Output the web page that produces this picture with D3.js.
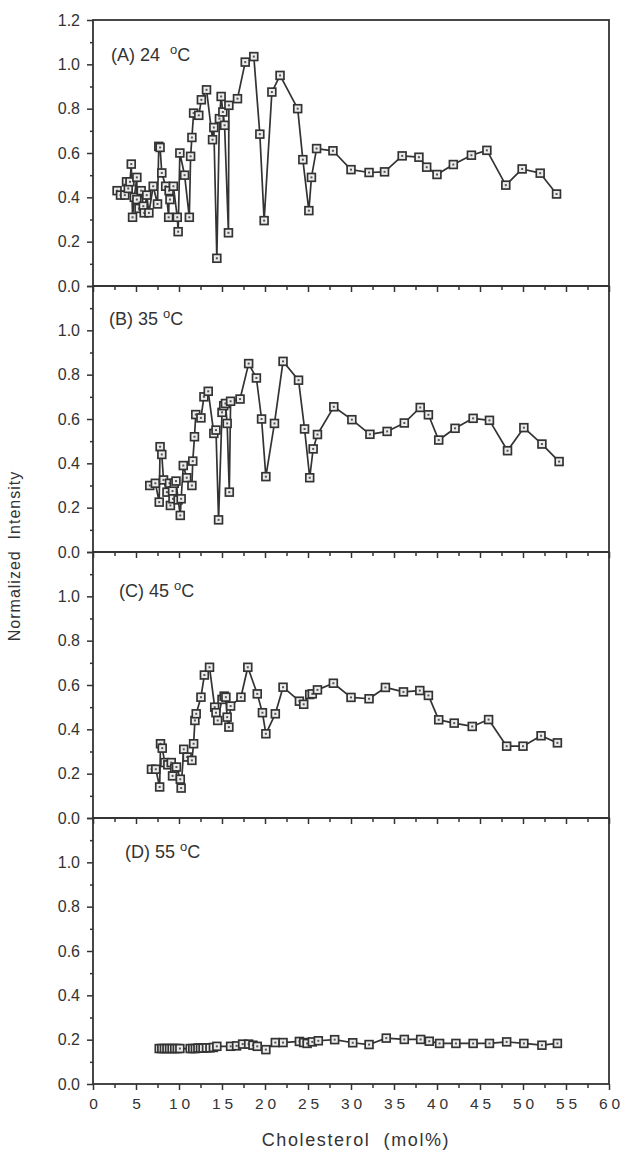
<!DOCTYPE html>
<html>
<head>
<meta charset="utf-8">
<script src="https://cdn.jsdelivr.net/npm/d3@7.9.0/dist/d3.min.js"></script>
<style>
  body { margin: 0; background: #fff; }
  svg { font-family: "Liberation Sans", Arial, sans-serif; }
</style>
</head>
<body>
<svg id="chart" width="628" height="1152"></svg>
<script>
// Cholesterol (mol%) and normalized intensity
const cholA = [2.8, 3.2, 3.7, 3.9, 4.1, 4.3, 4.45, 4.6, 4.8, 5.1, 5.1, 5.35, 5.6, 5.85, 5.95, 6.25, 6.5, 7.0, 7.5, 7.65,
  7.8, 8.0, 8.45, 8.8, 8.85, 8.95, 9.35, 9.8, 9.9, 10.1, 10.65, 11.2, 11.35, 11.5, 11.7, 12.3, 12.6, 13.2, 13.9, 14.05,
  14.4, 14.7, 14.9, 15.1, 15.3, 15.75, 15.8, 16.8, 17.7, 18.7, 19.4, 19.9, 20.8, 21.75, 23.8, 24.4, 25.1, 25.4, 26.0, 27.9,
  30.0, 32.1, 33.9, 35.95, 37.9, 38.8, 40.0, 41.9, 44.0, 45.8, 48.0, 49.9, 52.0, 53.9];
const intA = [0.43, 0.41, 0.41, 0.47, 0.44, 0.47, 0.55, 0.31, 0.40, 0.49, 0.39, 0.35, 0.43, 0.36, 0.33, 0.41, 0.33, 0.45, 0.37, 0.63,
  0.625, 0.51, 0.45, 0.31, 0.43, 0.39, 0.45, 0.31, 0.245, 0.60, 0.50, 0.31, 0.585, 0.67, 0.78, 0.77, 0.84, 0.885, 0.66, 0.715,
  0.125, 0.755, 0.855, 0.785, 0.725, 0.24, 0.815, 0.845, 1.01, 1.035, 0.685, 0.295, 0.875, 0.95, 0.80, 0.57, 0.34, 0.49, 0.62, 0.61,
  0.525, 0.512, 0.515, 0.587, 0.581, 0.536, 0.503, 0.548, 0.59, 0.612, 0.455, 0.528, 0.509, 0.415];

const cholB = [6.6, 7.25, 7.7, 7.8, 8.0, 8.2, 8.6, 8.9, 9.0, 9.25, 9.3, 9.45, 9.65, 9.9, 10.15, 10.25, 10.5, 10.9, 11.5, 11.6,
  11.8, 11.95, 12.55, 12.9, 13.4, 14.05, 14.3, 14.6, 15.0, 15.2, 15.4, 15.6, 15.85, 16.0, 17.1, 18.1, 19.0, 19.6, 20.1, 21.1,
  22.1, 23.9, 24.6, 25.2, 25.6, 26.1, 28.0, 30.1, 32.2, 34.2, 36.2, 38.05, 39.0, 40.2, 42.1, 44.2, 46.1, 48.2, 50.1, 52.2, 54.2];
const intB = [0.30, 0.31, 0.225, 0.475, 0.44, 0.325, 0.27, 0.31, 0.21, 0.275, 0.24, 0.31, 0.32, 0.235, 0.165, 0.24, 0.39, 0.335, 0.30, 0.41,
  0.52, 0.62, 0.605, 0.70, 0.725, 0.535, 0.55, 0.145, 0.63, 0.66, 0.67, 0.58, 0.27, 0.68, 0.69, 0.85, 0.785, 0.60, 0.34, 0.58,
  0.86, 0.775, 0.555, 0.335, 0.465, 0.53, 0.655, 0.597, 0.531, 0.544, 0.582, 0.652, 0.619, 0.505, 0.558, 0.603, 0.594, 0.457, 0.561, 0.487, 0.408];

const cholC = [6.8, 7.3, 7.75, 7.85, 8.05, 8.35, 8.7, 9.1, 9.25, 9.5, 9.7, 10.15, 10.25, 10.55, 10.95, 11.5, 11.7, 11.85, 12.0, 12.55,
  12.95, 13.55, 14.15, 14.3, 14.5, 15.0, 15.25, 15.45, 15.6, 15.8, 16.0, 17.2, 18.0, 19.1, 19.7, 20.1, 21.2, 22.1, 24.0, 24.5,
  25.2, 25.5, 26.1, 27.95, 30.0, 32.1, 34.0, 36.1, 38.0, 39.0, 40.2, 42.0, 44.1, 46.0, 48.1, 50.0, 52.1, 54.0];
const intC = [0.22, 0.22, 0.14, 0.335, 0.315, 0.25, 0.24, 0.25, 0.19, 0.225, 0.23, 0.175, 0.135, 0.31, 0.275, 0.26, 0.335, 0.44, 0.47, 0.545,
  0.645, 0.68, 0.50, 0.475, 0.44, 0.535, 0.55, 0.545, 0.455, 0.41, 0.505, 0.545, 0.68, 0.56, 0.475, 0.38, 0.47, 0.59, 0.527, 0.513,
  0.557, 0.56, 0.578, 0.608, 0.544, 0.538, 0.589, 0.569, 0.575, 0.553, 0.443, 0.428, 0.413, 0.444, 0.324, 0.324, 0.371, 0.339];

const cholD = [7.7, 8.0, 8.3, 8.6, 8.9, 9.2, 9.5, 9.8, 10.1, 11.3, 11.6, 11.9, 12.2, 12.5, 12.8, 13.2, 13.6, 14.0, 14.4, 16.0,
  16.7, 17.4, 18.1, 18.6, 19.1, 20.1, 21.2, 22.1, 24.0, 24.5, 24.9, 25.5, 26.2, 28.1, 30.2, 32.1, 34.1, 36.2, 38.1, 39.1,
  40.3, 42.2, 44.2, 46.1, 48.1, 50.1, 52.2, 54.0];
const intD = [0.16, 0.16, 0.16, 0.16, 0.16, 0.16, 0.16, 0.16, 0.16, 0.16, 0.16, 0.16, 0.162, 0.162, 0.162, 0.163, 0.163, 0.165, 0.17, 0.17,
  0.172, 0.18, 0.18, 0.175, 0.17, 0.155, 0.187, 0.187, 0.192, 0.187, 0.183, 0.19, 0.195, 0.2, 0.186, 0.178, 0.207, 0.201, 0.201, 0.193,
  0.183, 0.183, 0.183, 0.183, 0.19, 0.183, 0.175, 0.183];

const panelNames = ["(A) 24", "(B) 35", "(C) 45", "(D) 55"];
const xMajorTicks = d3.range(0, 61, 5);
const xMinorTicks = d3.range(2.5, 60, 5);
const yMajorTicks = [0, 0.2, 0.4, 0.6, 0.8, 1.0, 1.2];
const yMinorTicks = [0.1, 0.3, 0.5, 0.7, 0.9, 1.1];

const panels = [
  { name: panelNames[0], x: cholA, y: intA, labelX: 18, labelY: 41 },
  { name: panelNames[1], x: cholB, y: intB, labelX: 16, labelY: 39 },
  { name: panelNames[2], x: cholC, y: intC, labelX: 26, labelY: 45 },
  { name: panelNames[3], x: cholD, y: intD, labelX: 32, labelY: 40 }
];

// layout
const plotLeft = 93, plotRight = 609, plotTop = 20, panelH = 266;
const ink = "#333";

const svg = d3.select("#chart");
const x = d3.scaleLinear().domain([0, 60]).range([plotLeft, plotRight]);

panels.forEach((p, i) => {
  const y0 = plotTop + i * panelH;
  const y = d3.scaleLinear().domain([0, 1.2]).range([y0 + panelH, y0]);
  const g = svg.append("g");
  const isLast = i === panels.length - 1;

  // bottom ticks (pointing down)
  const xAxis = g.append("g")
    .attr("transform", `translate(0,${y0 + panelH})`)
    .call(d3.axisBottom(x).tickValues(xMajorTicks).tickSize(6).tickPadding(8)
      .tickFormat(isLast ? d3.format("d") : () => ""));
  g.append("g")
    .attr("transform", `translate(0,${y0 + panelH})`)
    .call(d3.axisBottom(x).tickValues(xMinorTicks).tickSize(4).tickFormat(() => ""));

  // left ticks
  g.append("g")
    .attr("transform", `translate(${plotLeft},0)`)
    .call(d3.axisLeft(y).tickValues(yMajorTicks).tickSize(6).tickPadding(7)
      .tickFormat(d => (i > 0 && d > 1.1) ? "" : d3.format(".1f")(d)));
  g.append("g")
    .attr("transform", `translate(${plotLeft},0)`)
    .call(d3.axisLeft(y).tickValues(yMinorTicks).tickSize(3).tickFormat(() => ""));

  g.selectAll(".domain").remove();
  g.selectAll(".tick line").attr("stroke", ink).attr("stroke-width", 1.5);
  g.selectAll(".tick text").attr("fill", ink).style("font-size", "16px")
    .style("font-family", "'Liberation Sans', Arial, sans-serif");
  if (isLast) {
    xAxis.selectAll(".tick text")
      .style("letter-spacing", "4px")
      .attr("dx", "2px")
      .style("font-size", "15.5px");
  }

  // frame
  g.append("rect")
    .attr("x", plotLeft).attr("y", y0)
    .attr("width", plotRight - plotLeft).attr("height", panelH)
    .attr("fill", "none").attr("stroke", ink).attr("stroke-width", 1.8);

  const pts = p.x.map((v, k) => [v, p.y[k]]);

  g.append("path")
    .datum(pts)
    .attr("fill", "none")
    .attr("stroke", ink)
    .attr("stroke-width", 1.7)
    .attr("stroke-linejoin", "round")
    .attr("d", d3.line().x(d => x(d[0])).y(d => y(d[1])));

  const mk = g.selectAll(".mk").data(pts).join("g")
    .attr("class", "mk")
    .attr("transform", d => `translate(${x(d[0])},${y(d[1])})`);
  mk.append("rect")
    .attr("x", -3.9).attr("y", -3.9).attr("width", 7.8).attr("height", 7.8)
    .attr("fill", "#ececec").attr("stroke", ink).attr("stroke-width", 1.7);
  mk.append("rect")
    .attr("x", -1).attr("y", -1).attr("width", 2).attr("height", 2)
    .attr("fill", "#555");

  // panel label
  const lab = g.append("text")
    .attr("x", plotLeft + p.labelX).attr("y", y0 + p.labelY)
    .attr("fill", ink).style("font-size", "18px")
    .style("white-space", "pre");
  lab.append("tspan").text(p.name + (i === 0 ? "  " : " "));
  lab.append("tspan").attr("dy", -7).style("font-size", "13px").text("o");
  lab.append("tspan").attr("dy", 7).text("C");
});

// axis titles
svg.append("text")
  .attr("x", 356).attr("y", 1146)
  .attr("text-anchor", "middle")
  .attr("fill", ink)
  .style("font-size", "18px").style("letter-spacing", "1.6px")
  .style("white-space", "pre")
  .text("Cholesterol  (mol%)");

svg.append("text")
  .attr("transform", "translate(20,556) rotate(-90)")
  .attr("text-anchor", "middle")
  .attr("fill", ink)
  .style("font-size", "16px").style("letter-spacing", "1px")
  .style("white-space", "pre")
  .text("Normalized  Intensity");
</script>
</body>
</html>
